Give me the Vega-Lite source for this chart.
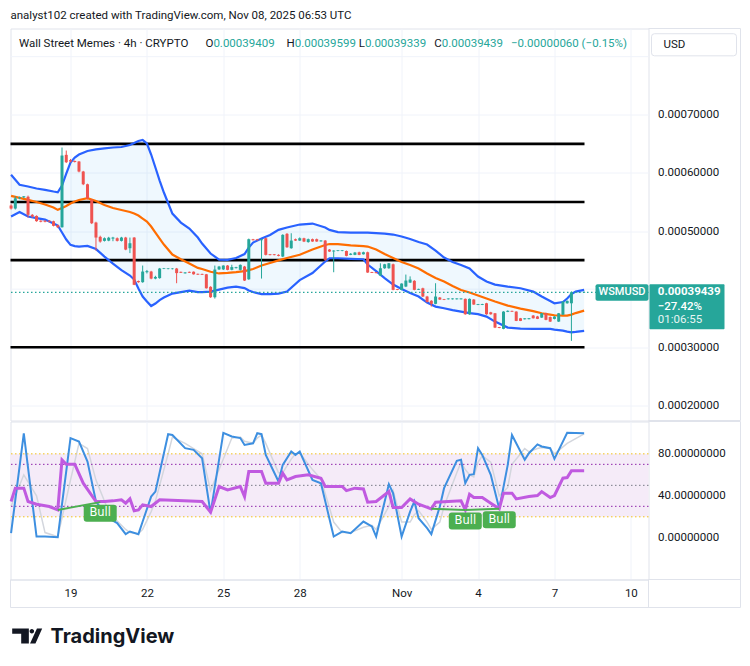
{
  "$schema": "https://vega.github.io/schema/vega-lite/v6.json",
  "description": "Wall Street Memes 4h chart with Bollinger Bands, Stochastic and RSI",
  "background": "#ffffff",
  "padding": {"left": 4.5, "top": 8.5, "right": 0, "bottom": 0},
  "config": {"view": {"stroke": "#e0e3eb", "strokeWidth": 1}, "font": "Roboto", "scale": {"continuousPadding": 0}},
  "bounds": "flush",
  "spacing": 1,
  "datasets": {
    "one": [{}],
    "levels": [{"p": 0.00065}, {"p": 0.00055}, {"p": 0.00045}, {"p": 0.0003}],
    "grid": [{"p": 0.0004}, {"p": 0.0008}],
    "candles": [
      {"t": "2025-10-16T16:00Z", "o": 0.0005439, "h": 0.000546, "l": 0.000537, "c": 0.0005387},
      {"t": "2025-10-16T20:00Z", "o": 0.0005387, "h": 0.00056, "l": 0.000537, "c": 0.0005564},
      {"t": "2025-10-17T00:00Z", "o": 0.0005564, "h": 0.0005592, "l": 0.0005548, "c": 0.0005582},
      {"t": "2025-10-17T04:00Z", "o": 0.000558, "h": 0.0005602, "l": 0.0005565, "c": 0.0005598},
      {"t": "2025-10-17T08:00Z", "o": 0.000559, "h": 0.000561, "l": 0.0005232, "c": 0.0005279},
      {"t": "2025-10-17T12:00Z", "o": 0.0005279, "h": 0.0005292, "l": 0.000523, "c": 0.0005249},
      {"t": "2025-10-17T16:00Z", "o": 0.000526, "h": 0.000527, "l": 0.000516, "c": 0.000517},
      {"t": "2025-10-17T20:00Z", "o": 0.0005178, "h": 0.0005185, "l": 0.000515, "c": 0.000516},
      {"t": "2025-10-18T00:00Z", "o": 0.0005178, "h": 0.0005185, "l": 0.000515, "c": 0.000516},
      {"t": "2025-10-18T04:00Z", "o": 0.0005178, "h": 0.0005185, "l": 0.000515, "c": 0.000516},
      {"t": "2025-10-18T08:00Z", "o": 0.0005168, "h": 0.0005178, "l": 0.000508, "c": 0.000509},
      {"t": "2025-10-18T12:00Z", "o": 0.00051, "h": 0.0005112, "l": 0.000505, "c": 0.0005065},
      {"t": "2025-10-18T16:00Z", "o": 0.0005065, "h": 0.0006437, "l": 0.000506, "c": 0.0006299},
      {"t": "2025-10-18T20:00Z", "o": 0.0006311, "h": 0.0006385, "l": 0.000617, "c": 0.0006184},
      {"t": "2025-10-19T00:00Z", "o": 0.000622, "h": 0.000624, "l": 0.000618, "c": 0.0006196},
      {"t": "2025-10-19T04:00Z", "o": 0.0006205, "h": 0.0006215, "l": 0.000618, "c": 0.0006188},
      {"t": "2025-10-19T08:00Z", "o": 0.0006196, "h": 0.0006205, "l": 0.000601, "c": 0.0006024},
      {"t": "2025-10-19T12:00Z", "o": 0.0006024, "h": 0.0006035, "l": 0.000579, "c": 0.0005805},
      {"t": "2025-10-19T16:00Z", "o": 0.0005805, "h": 0.0005815, "l": 0.0005545, "c": 0.0005564},
      {"t": "2025-10-19T20:00Z", "o": 0.0005537, "h": 0.000555, "l": 0.000512, "c": 0.0005134},
      {"t": "2025-10-20T00:00Z", "o": 0.0005146, "h": 0.000516, "l": 0.0004664, "c": 0.0004888},
      {"t": "2025-10-20T04:00Z", "o": 0.00049, "h": 0.000492, "l": 0.00048, "c": 0.0004819},
      {"t": "2025-10-20T08:00Z", "o": 0.0004831, "h": 0.000489, "l": 0.000482, "c": 0.0004876},
      {"t": "2025-10-20T12:00Z", "o": 0.0004835, "h": 0.00049, "l": 0.0004825, "c": 0.0004885},
      {"t": "2025-10-20T16:00Z", "o": 0.000487, "h": 0.00049, "l": 0.0004825, "c": 0.0004888},
      {"t": "2025-10-20T20:00Z", "o": 0.0004876, "h": 0.000489, "l": 0.000482, "c": 0.0004831},
      {"t": "2025-10-21T00:00Z", "o": 0.0004831, "h": 0.00049, "l": 0.000482, "c": 0.0004888},
      {"t": "2025-10-21T04:00Z", "o": 0.0004888, "h": 0.00049, "l": 0.000467, "c": 0.0004681},
      {"t": "2025-10-21T08:00Z", "o": 0.0004704, "h": 0.0004888, "l": 0.000462, "c": 0.000479},
      {"t": "2025-10-21T12:00Z", "o": 0.0004888, "h": 0.0004895, "l": 0.0004069, "c": 0.0004075},
      {"t": "2025-10-21T16:00Z", "o": 0.000414, "h": 0.0004148, "l": 0.000411, "c": 0.000412},
      {"t": "2025-10-21T20:00Z", "o": 0.000412, "h": 0.0004406, "l": 0.000411, "c": 0.0004303},
      {"t": "2025-10-22T00:00Z", "o": 0.0004292, "h": 0.000433, "l": 0.000427, "c": 0.000431},
      {"t": "2025-10-22T04:00Z", "o": 0.0004303, "h": 0.0004315, "l": 0.000417, "c": 0.0004182},
      {"t": "2025-10-22T08:00Z", "o": 0.0004182, "h": 0.000423, "l": 0.000417, "c": 0.000421},
      {"t": "2025-10-22T12:00Z", "o": 0.000419, "h": 0.0004365, "l": 0.000418, "c": 0.0004355},
      {"t": "2025-10-22T16:00Z", "o": 0.0004348, "h": 0.0004365, "l": 0.0004345, "c": 0.0004358},
      {"t": "2025-10-22T20:00Z", "o": 0.0004346, "h": 0.0004362, "l": 0.0004342, "c": 0.0004356},
      {"t": "2025-10-23T00:00Z", "o": 0.0004345, "h": 0.0004362, "l": 0.000434, "c": 0.0004355},
      {"t": "2025-10-23T04:00Z", "o": 0.0004355, "h": 0.0004365, "l": 0.0004102, "c": 0.0004276},
      {"t": "2025-10-23T08:00Z", "o": 0.0004298, "h": 0.0004302, "l": 0.0004278, "c": 0.0004282},
      {"t": "2025-10-23T12:00Z", "o": 0.0004272, "h": 0.0004292, "l": 0.0004268, "c": 0.0004288},
      {"t": "2025-10-23T16:00Z", "o": 0.0004298, "h": 0.0004302, "l": 0.0004278, "c": 0.0004282},
      {"t": "2025-10-23T20:00Z", "o": 0.00043, "h": 0.0004305, "l": 0.000425, "c": 0.0004256},
      {"t": "2025-10-24T00:00Z", "o": 0.0004264, "h": 0.0004268, "l": 0.0004245, "c": 0.000425},
      {"t": "2025-10-24T04:00Z", "o": 0.0004262, "h": 0.0004266, "l": 0.0004245, "c": 0.0004248},
      {"t": "2025-10-24T08:00Z", "o": 0.0004256, "h": 0.0004262, "l": 0.000401, "c": 0.0004015},
      {"t": "2025-10-24T12:00Z", "o": 0.000404, "h": 0.000405, "l": 0.000385, "c": 0.0003861},
      {"t": "2025-10-24T16:00Z", "o": 0.0003861, "h": 0.0004406, "l": 0.0003838, "c": 0.0004337},
      {"t": "2025-10-24T20:00Z", "o": 0.000434, "h": 0.00044, "l": 0.000433, "c": 0.0004389},
      {"t": "2025-10-25T00:00Z", "o": 0.000434, "h": 0.000441, "l": 0.000433, "c": 0.0004406},
      {"t": "2025-10-25T04:00Z", "o": 0.0004406, "h": 0.0004415, "l": 0.0004325, "c": 0.0004332},
      {"t": "2025-10-25T08:00Z", "o": 0.0004333, "h": 0.000442, "l": 0.0004325, "c": 0.000438},
      {"t": "2025-10-25T12:00Z", "o": 0.0004362, "h": 0.0004385, "l": 0.0004355, "c": 0.0004378},
      {"t": "2025-10-25T16:00Z", "o": 0.0004332, "h": 0.0004425, "l": 0.000432, "c": 0.0004418},
      {"t": "2025-10-25T20:00Z", "o": 0.0004389, "h": 0.00044, "l": 0.000414, "c": 0.0004148},
      {"t": "2025-10-26T00:00Z", "o": 0.000417, "h": 0.000487, "l": 0.000416, "c": 0.0004859},
      {"t": "2025-10-26T04:00Z", "o": 0.0004858, "h": 0.0004865, "l": 0.0004838, "c": 0.0004842},
      {"t": "2025-10-26T08:00Z", "o": 0.0004858, "h": 0.0004865, "l": 0.0004838, "c": 0.0004842},
      {"t": "2025-10-26T12:00Z", "o": 0.0004842, "h": 0.0004862, "l": 0.0004182, "c": 0.0004858},
      {"t": "2025-10-26T16:00Z", "o": 0.0004876, "h": 0.0004885, "l": 0.000458, "c": 0.000459},
      {"t": "2025-10-26T20:00Z", "o": 0.00046, "h": 0.0004605, "l": 0.0004582, "c": 0.0004586},
      {"t": "2025-10-27T00:00Z", "o": 0.00046, "h": 0.0004605, "l": 0.0004582, "c": 0.0004586},
      {"t": "2025-10-27T04:00Z", "o": 0.000459, "h": 0.00046, "l": 0.0004565, "c": 0.0004573},
      {"t": "2025-10-27T08:00Z", "o": 0.0004561, "h": 0.0004945, "l": 0.000455, "c": 0.0004934},
      {"t": "2025-10-27T12:00Z", "o": 0.0004952, "h": 0.0004965, "l": 0.000471, "c": 0.0004721},
      {"t": "2025-10-27T16:00Z", "o": 0.0004704, "h": 0.0004962, "l": 0.0004695, "c": 0.0004836},
      {"t": "2025-10-27T20:00Z", "o": 0.0004859, "h": 0.000487, "l": 0.000483, "c": 0.0004836},
      {"t": "2025-10-28T00:00Z", "o": 0.0004836, "h": 0.000489, "l": 0.000483, "c": 0.0004876},
      {"t": "2025-10-28T04:00Z", "o": 0.0004876, "h": 0.0004885, "l": 0.000481, "c": 0.0004819},
      {"t": "2025-10-28T08:00Z", "o": 0.000481, "h": 0.000487, "l": 0.00048, "c": 0.000486},
      {"t": "2025-10-28T12:00Z", "o": 0.000486, "h": 0.000487, "l": 0.0004815, "c": 0.000482},
      {"t": "2025-10-28T16:00Z", "o": 0.000486, "h": 0.000487, "l": 0.0004815, "c": 0.000482},
      {"t": "2025-10-28T20:00Z", "o": 0.0004822, "h": 0.000484, "l": 0.0004818, "c": 0.0004838},
      {"t": "2025-10-29T00:00Z", "o": 0.0004836, "h": 0.0004845, "l": 0.0004487, "c": 0.0004504},
      {"t": "2025-10-29T04:00Z", "o": 0.0004681, "h": 0.000469, "l": 0.000464, "c": 0.0004647},
      {"t": "2025-10-29T08:00Z", "o": 0.0004648, "h": 0.000467, "l": 0.0004291, "c": 0.0004664},
      {"t": "2025-10-29T12:00Z", "o": 0.0004656, "h": 0.0004672, "l": 0.0004652, "c": 0.0004668},
      {"t": "2025-10-29T16:00Z", "o": 0.0004656, "h": 0.0004672, "l": 0.0004652, "c": 0.0004668},
      {"t": "2025-10-29T20:00Z", "o": 0.0004657, "h": 0.0004665, "l": 0.0004565, "c": 0.0004573},
      {"t": "2025-10-30T00:00Z", "o": 0.000459, "h": 0.000462, "l": 0.0004585, "c": 0.000461},
      {"t": "2025-10-30T04:00Z", "o": 0.000459, "h": 0.000464, "l": 0.0004585, "c": 0.000463},
      {"t": "2025-10-30T08:00Z", "o": 0.0004635, "h": 0.0004645, "l": 0.0004585, "c": 0.000459},
      {"t": "2025-10-30T12:00Z", "o": 0.00046, "h": 0.0004645, "l": 0.0004595, "c": 0.0004635},
      {"t": "2025-10-30T16:00Z", "o": 0.0004635, "h": 0.0004645, "l": 0.000428, "c": 0.0004286},
      {"t": "2025-10-30T20:00Z", "o": 0.0004295, "h": 0.0004298, "l": 0.0004278, "c": 0.000428},
      {"t": "2025-10-31T00:00Z", "o": 0.0004292, "h": 0.0004295, "l": 0.0004272, "c": 0.0004276},
      {"t": "2025-10-31T04:00Z", "o": 0.0004234, "h": 0.0004445, "l": 0.0004225, "c": 0.000436},
      {"t": "2025-10-31T08:00Z", "o": 0.000436, "h": 0.0004435, "l": 0.000435, "c": 0.0004428},
      {"t": "2025-10-31T12:00Z", "o": 0.000436, "h": 0.000445, "l": 0.000435, "c": 0.0004445},
      {"t": "2025-10-31T16:00Z", "o": 0.0004428, "h": 0.000444, "l": 0.000398, "c": 0.0003988},
      {"t": "2025-10-31T20:00Z", "o": 0.0004, "h": 0.0004004, "l": 0.0003982, "c": 0.0003986},
      {"t": "2025-11-01T00:00Z", "o": 0.0003988, "h": 0.00041, "l": 0.000398, "c": 0.0004096},
      {"t": "2025-11-01T04:00Z", "o": 0.0004045, "h": 0.0004251, "l": 0.0004035, "c": 0.0004148},
      {"t": "2025-11-01T08:00Z", "o": 0.0004113, "h": 0.000422, "l": 0.0004105, "c": 0.0004165},
      {"t": "2025-11-01T12:00Z", "o": 0.0004143, "h": 0.0004155, "l": 0.000398, "c": 0.0003988},
      {"t": "2025-11-01T16:00Z", "o": 0.000399, "h": 0.0004008, "l": 0.0003986, "c": 0.0004004},
      {"t": "2025-11-01T20:00Z", "o": 0.0004015, "h": 0.0004025, "l": 0.0003865, "c": 0.0003873},
      {"t": "2025-11-02T00:00Z", "o": 0.0003873, "h": 0.0003885, "l": 0.000377, "c": 0.000378},
      {"t": "2025-11-02T04:00Z", "o": 0.00038, "h": 0.000381, "l": 0.00037, "c": 0.0003747},
      {"t": "2025-11-02T08:00Z", "o": 0.0003747, "h": 0.0004102, "l": 0.000374, "c": 0.0003873},
      {"t": "2025-11-02T12:00Z", "o": 0.0003856, "h": 0.0003865, "l": 0.0003815, "c": 0.0003821},
      {"t": "2025-11-02T16:00Z", "o": 0.0003828, "h": 0.0003832, "l": 0.0003812, "c": 0.0003816},
      {"t": "2025-11-02T20:00Z", "o": 0.0003826, "h": 0.0003842, "l": 0.0003822, "c": 0.000384},
      {"t": "2025-11-03T00:00Z", "o": 0.0003826, "h": 0.0003842, "l": 0.0003822, "c": 0.000384},
      {"t": "2025-11-03T04:00Z", "o": 0.0003826, "h": 0.0003842, "l": 0.0003822, "c": 0.000384},
      {"t": "2025-11-03T08:00Z", "o": 0.0003826, "h": 0.0003842, "l": 0.0003822, "c": 0.000384},
      {"t": "2025-11-03T12:00Z", "o": 0.0003833, "h": 0.000384, "l": 0.000356, "c": 0.0003568},
      {"t": "2025-11-03T16:00Z", "o": 0.0003568, "h": 0.000384, "l": 0.000356, "c": 0.0003833},
      {"t": "2025-11-03T20:00Z", "o": 0.0003821, "h": 0.000383, "l": 0.000373, "c": 0.0003735},
      {"t": "2025-11-04T00:00Z", "o": 0.0003728, "h": 0.0003746, "l": 0.0003725, "c": 0.0003742},
      {"t": "2025-11-04T04:00Z", "o": 0.000373, "h": 0.0003748, "l": 0.0003726, "c": 0.0003745},
      {"t": "2025-11-04T08:00Z", "o": 0.0003757, "h": 0.0003765, "l": 0.000356, "c": 0.0003568},
      {"t": "2025-11-04T12:00Z", "o": 0.0003602, "h": 0.000361, "l": 0.000356, "c": 0.0003568},
      {"t": "2025-11-04T16:00Z", "o": 0.0003585, "h": 0.000359, "l": 0.000333, "c": 0.0003339},
      {"t": "2025-11-04T20:00Z", "o": 0.0003348, "h": 0.000335, "l": 0.0003328, "c": 0.0003332},
      {"t": "2025-11-05T00:00Z", "o": 0.0003317, "h": 0.000362, "l": 0.000331, "c": 0.0003614},
      {"t": "2025-11-05T04:00Z", "o": 0.000361, "h": 0.0003635, "l": 0.0003605, "c": 0.0003627},
      {"t": "2025-11-05T08:00Z", "o": 0.0003626, "h": 0.000363, "l": 0.000361, "c": 0.0003612},
      {"t": "2025-11-05T12:00Z", "o": 0.0003614, "h": 0.000362, "l": 0.000345, "c": 0.0003454},
      {"t": "2025-11-05T16:00Z", "o": 0.0003499, "h": 0.0003505, "l": 0.000345, "c": 0.0003454},
      {"t": "2025-11-05T20:00Z", "o": 0.0003482, "h": 0.00035, "l": 0.0003478, "c": 0.0003498},
      {"t": "2025-11-06T00:00Z", "o": 0.0003484, "h": 0.0003502, "l": 0.000348, "c": 0.00035},
      {"t": "2025-11-06T04:00Z", "o": 0.0003546, "h": 0.0003555, "l": 0.0003495, "c": 0.0003499},
      {"t": "2025-11-06T08:00Z", "o": 0.000353, "h": 0.000354, "l": 0.0003485, "c": 0.0003489},
      {"t": "2025-11-06T12:00Z", "o": 0.000351, "h": 0.000359, "l": 0.0003505, "c": 0.0003585},
      {"t": "2025-11-06T16:00Z", "o": 0.0003585, "h": 0.0003595, "l": 0.0003465, "c": 0.0003472},
      {"t": "2025-11-06T20:00Z", "o": 0.000352, "h": 0.000353, "l": 0.0003435, "c": 0.0003442},
      {"t": "2025-11-07T00:00Z", "o": 0.0003488, "h": 0.0003535, "l": 0.000348, "c": 0.0003528},
      {"t": "2025-11-07T04:00Z", "o": 0.0003442, "h": 0.000359, "l": 0.0003435, "c": 0.0003585},
      {"t": "2025-11-07T08:00Z", "o": 0.000356, "h": 0.000379, "l": 0.0003555, "c": 0.0003786},
      {"t": "2025-11-07T12:00Z", "o": 0.0003757, "h": 0.0003805, "l": 0.000375, "c": 0.0003798},
      {"t": "2025-11-07T16:00Z", "o": 0.0003757, "h": 0.000396, "l": 0.000311, "c": 0.0003947},
      {"t": "2025-11-07T20:00Z", "o": 0.0003938, "h": 0.0003952, "l": 0.0003936, "c": 0.0003944},
      {"t": "2025-11-08T00:00Z", "o": 0.0003938, "h": 0.0003952, "l": 0.0003936, "c": 0.0003942},
      {"t": "2025-11-08T04:00Z", "o": 0.00039409, "h": 0.00039599, "l": 0.00039339, "c": 0.00039439}
    ],
    "bb": [
      {"t": "2025-10-16T16:00Z", "up": 0.00059672, "mid": 0.00056057, "lo": 0.00052494},
      {"t": "2025-10-17T00:00Z", "up": 0.0005795, "mid": 0.00055713, "lo": 0.00053269},
      {"t": "2025-10-17T08:00Z", "up": 0.00057658, "mid": 0.00055369, "lo": 0.00052494},
      {"t": "2025-10-17T16:00Z", "up": 0.00057314, "mid": 0.0005499, "lo": 0.00052236},
      {"t": "2025-10-18T00:00Z", "up": 0.0005709, "mid": 0.0005456, "lo": 0.00051978},
      {"t": "2025-10-18T08:00Z", "up": 0.00056797, "mid": 0.00054043, "lo": 0.00051289},
      {"t": "2025-10-18T12:00Z", "up": 0.00056677, "mid": 0.00053647, "lo": 0.00050945},
      {"t": "2025-10-18T16:00Z", "up": 0.0005783, "mid": 0.00053957, "lo": 0.0004974},
      {"t": "2025-10-18T20:00Z", "up": 0.00059895, "mid": 0.00054301, "lo": 0.00048535},
      {"t": "2025-10-19T00:00Z", "up": 0.00061789, "mid": 0.00054732, "lo": 0.00047623},
      {"t": "2025-10-19T04:00Z", "up": 0.00062649, "mid": 0.00055076, "lo": 0.00047417},
      {"t": "2025-10-19T08:00Z", "up": 0.00063166, "mid": 0.00055334, "lo": 0.00047331},
      {"t": "2025-10-19T16:00Z", "up": 0.00063768, "mid": 0.00055644, "lo": 0.00047451},
      {"t": "2025-10-20T00:00Z", "up": 0.00064061, "mid": 0.00055162, "lo": 0.000469},
      {"t": "2025-10-20T08:00Z", "up": 0.00064233, "mid": 0.00054474, "lo": 0.00045609},
      {"t": "2025-10-20T16:00Z", "up": 0.0006437, "mid": 0.00053957, "lo": 0.00044405},
      {"t": "2025-10-21T00:00Z", "up": 0.00064457, "mid": 0.00053613, "lo": 0.00043286},
      {"t": "2025-10-21T08:00Z", "up": 0.00064801, "mid": 0.00053269, "lo": 0.00042339},
      {"t": "2025-10-21T12:00Z", "up": 0.00065145, "mid": 0.00053011, "lo": 0.00041651},
      {"t": "2025-10-21T16:00Z", "up": 0.00065489, "mid": 0.00052666, "lo": 0.00040102},
      {"t": "2025-10-21T20:00Z", "up": 0.00065661, "mid": 0.0005215, "lo": 0.00038725},
      {"t": "2025-10-22T00:00Z", "up": 0.00065059, "mid": 0.00051634, "lo": 0.00037864},
      {"t": "2025-10-22T04:00Z", "up": 0.00063166, "mid": 0.00050773, "lo": 0.0003709},
      {"t": "2025-10-22T08:00Z", "up": 0.00060928, "mid": 0.0004974, "lo": 0.0003752},
      {"t": "2025-10-22T12:00Z", "up": 0.00058691, "mid": 0.00048708, "lo": 0.00038122},
      {"t": "2025-10-22T16:00Z", "up": 0.00056625, "mid": 0.00047675, "lo": 0.00038552},
      {"t": "2025-10-23T00:00Z", "up": 0.00053011, "mid": 0.00045954, "lo": 0.00039241},
      {"t": "2025-10-23T08:00Z", "up": 0.00051461, "mid": 0.00045145, "lo": 0.00039499},
      {"t": "2025-10-23T16:00Z", "up": 0.00050429, "mid": 0.00044405, "lo": 0.00039757},
      {"t": "2025-10-24T00:00Z", "up": 0.0004888, "mid": 0.00043664, "lo": 0.00039499},
      {"t": "2025-10-24T04:00Z", "up": 0.00047847, "mid": 0.00043458, "lo": 0.00039499},
      {"t": "2025-10-24T12:00Z", "up": 0.00046126, "mid": 0.00042993, "lo": 0.00039585},
      {"t": "2025-10-24T20:00Z", "up": 0.00045093, "mid": 0.000427, "lo": 0.00039929},
      {"t": "2025-10-25T04:00Z", "up": 0.00045041, "mid": 0.00042804, "lo": 0.00040274},
      {"t": "2025-10-25T12:00Z", "up": 0.00045351, "mid": 0.00042942, "lo": 0.00040446},
      {"t": "2025-10-25T20:00Z", "up": 0.0004604, "mid": 0.00043114, "lo": 0.00040188},
      {"t": "2025-10-26T00:00Z", "up": 0.00047158, "mid": 0.00043286, "lo": 0.00039757},
      {"t": "2025-10-26T04:00Z", "up": 0.00048019, "mid": 0.00043458, "lo": 0.00039499},
      {"t": "2025-10-26T12:00Z", "up": 0.00048708, "mid": 0.0004406, "lo": 0.00039155},
      {"t": "2025-10-26T20:00Z", "up": 0.0004931, "mid": 0.00044491, "lo": 0.00039155},
      {"t": "2025-10-27T04:00Z", "up": 0.00050205, "mid": 0.00044955, "lo": 0.00039241},
      {"t": "2025-10-27T12:00Z", "up": 0.00050601, "mid": 0.00045351, "lo": 0.00039585},
      {"t": "2025-10-28T00:00Z", "up": 0.00051117, "mid": 0.00045919, "lo": 0.00041565},
      {"t": "2025-10-28T12:00Z", "up": 0.00051289, "mid": 0.00046814, "lo": 0.00042769},
      {"t": "2025-10-29T00:00Z", "up": 0.00050601, "mid": 0.00047589, "lo": 0.00044749},
      {"t": "2025-10-29T04:00Z", "up": 0.00050205, "mid": 0.00047761, "lo": 0.00045317},
      {"t": "2025-10-29T12:00Z", "up": 0.00049826, "mid": 0.00047761, "lo": 0.00045317},
      {"t": "2025-10-30T00:00Z", "up": 0.0004974, "mid": 0.00047537, "lo": 0.00045214},
      {"t": "2025-10-30T12:00Z", "up": 0.0004974, "mid": 0.00047417, "lo": 0.00045145},
      {"t": "2025-10-30T16:00Z", "up": 0.0004974, "mid": 0.00047331, "lo": 0.00044232},
      {"t": "2025-10-31T00:00Z", "up": 0.00049654, "mid": 0.00046814, "lo": 0.00043114},
      {"t": "2025-10-31T08:00Z", "up": 0.00049568, "mid": 0.0004604, "lo": 0.00041909},
      {"t": "2025-10-31T16:00Z", "up": 0.00049396, "mid": 0.00045351, "lo": 0.0004079},
      {"t": "2025-11-01T00:00Z", "up": 0.00049052, "mid": 0.00044663, "lo": 0.00040015},
      {"t": "2025-11-01T08:00Z", "up": 0.00048621, "mid": 0.00044146, "lo": 0.00039327},
      {"t": "2025-11-01T16:00Z", "up": 0.00048105, "mid": 0.00043544, "lo": 0.00038725},
      {"t": "2025-11-02T00:00Z", "up": 0.00047675, "mid": 0.00042683, "lo": 0.00037692},
      {"t": "2025-11-02T08:00Z", "up": 0.00046642, "mid": 0.00041909, "lo": 0.00037003},
      {"t": "2025-11-02T16:00Z", "up": 0.00045437, "mid": 0.00041306, "lo": 0.00036711},
      {"t": "2025-11-03T00:00Z", "up": 0.00044663, "mid": 0.00040533, "lo": 0.00036401},
      {"t": "2025-11-03T08:00Z", "up": 0.00044146, "mid": 0.00039844, "lo": 0.00036143},
      {"t": "2025-11-03T16:00Z", "up": 0.00043544, "mid": 0.00039413, "lo": 0.00035885},
      {"t": "2025-11-04T00:00Z", "up": 0.00042167, "mid": 0.00038897, "lo": 0.00035712},
      {"t": "2025-11-04T08:00Z", "up": 0.00041306, "mid": 0.0003838, "lo": 0.00035282},
      {"t": "2025-11-04T16:00Z", "up": 0.0004079, "mid": 0.00037864, "lo": 0.00034422},
      {"t": "2025-11-05T04:00Z", "up": 0.00040446, "mid": 0.00037176, "lo": 0.00033389},
      {"t": "2025-11-05T16:00Z", "up": 0.00040153, "mid": 0.00036659, "lo": 0.00033217},
      {"t": "2025-11-06T04:00Z", "up": 0.00039585, "mid": 0.00036229, "lo": 0.00033165},
      {"t": "2025-11-06T12:00Z", "up": 0.00038725, "mid": 0.0003585, "lo": 0.00033165},
      {"t": "2025-11-06T20:00Z", "up": 0.0003795, "mid": 0.00035626, "lo": 0.00033165},
      {"t": "2025-11-07T00:00Z", "up": 0.00037571, "mid": 0.00035506, "lo": 0.00033045},
      {"t": "2025-11-07T08:00Z", "up": 0.00037778, "mid": 0.00035454, "lo": 0.00032873},
      {"t": "2025-11-07T12:00Z", "up": 0.0003838, "mid": 0.00035454, "lo": 0.00032701},
      {"t": "2025-11-07T16:00Z", "up": 0.00039155, "mid": 0.00035626, "lo": 0.0003258},
      {"t": "2025-11-07T20:00Z", "up": 0.00039585, "mid": 0.00035885, "lo": 0.00032649},
      {"t": "2025-11-08T04:00Z", "up": 0.00039878, "mid": 0.00036315, "lo": 0.00032821}
    ],
    "stoch": [
      {"t": "2025-10-16T16:00Z", "k": 4.4, "d": 30},
      {"t": "2025-10-17T04:00Z", "k": 99.6, "d": 60},
      {"t": "2025-10-17T16:00Z", "k": 1.2, "d": 40},
      {"t": "2025-10-18T00:00Z", "k": 1.2, "d": 5},
      {"t": "2025-10-18T12:00Z", "k": 0.5, "d": 1},
      {"t": "2025-10-19T00:00Z", "k": 95, "d": 55},
      {"t": "2025-10-19T08:00Z", "k": 91.7, "d": 90},
      {"t": "2025-10-19T16:00Z", "k": 72.7, "d": 85},
      {"t": "2025-10-20T00:00Z", "k": 34.6, "d": 55},
      {"t": "2025-10-20T12:00Z", "k": 18.7, "d": 25},
      {"t": "2025-10-20T20:00Z", "k": 14, "d": 16},
      {"t": "2025-10-21T04:00Z", "k": 3.5, "d": 8},
      {"t": "2025-10-21T08:00Z", "k": 6, "d": 5},
      {"t": "2025-10-21T16:00Z", "k": 3.5, "d": 4},
      {"t": "2025-10-21T20:00Z", "k": 15.5, "d": 8},
      {"t": "2025-10-22T04:00Z", "k": 39.3, "d": 25},
      {"t": "2025-10-22T08:00Z", "k": 44, "d": 35},
      {"t": "2025-10-22T20:00Z", "k": 98.7, "d": 80},
      {"t": "2025-10-23T00:00Z", "k": 98, "d": 96},
      {"t": "2025-10-23T12:00Z", "k": 85.4, "d": 90},
      {"t": "2025-10-23T20:00Z", "k": 83.8, "d": 85},
      {"t": "2025-10-24T04:00Z", "k": 75.8, "d": 80},
      {"t": "2025-10-24T12:00Z", "k": 23.5, "d": 45},
      {"t": "2025-10-25T00:00Z", "k": 100, "d": 75},
      {"t": "2025-10-25T08:00Z", "k": 96.5, "d": 95},
      {"t": "2025-10-25T16:00Z", "k": 95, "d": 96},
      {"t": "2025-10-25T20:00Z", "k": 88.5, "d": 92},
      {"t": "2025-10-26T04:00Z", "k": 90, "d": 90},
      {"t": "2025-10-26T08:00Z", "k": 99.6, "d": 95},
      {"t": "2025-10-26T12:00Z", "k": 98.7, "d": 98},
      {"t": "2025-10-26T16:00Z", "k": 79, "d": 90},
      {"t": "2025-10-27T04:00Z", "k": 53.6, "d": 62},
      {"t": "2025-10-27T08:00Z", "k": 69.5, "d": 62},
      {"t": "2025-10-27T16:00Z", "k": 82.2, "d": 75},
      {"t": "2025-10-27T20:00Z", "k": 79, "d": 80},
      {"t": "2025-10-28T00:00Z", "k": 82.2, "d": 81},
      {"t": "2025-10-28T12:00Z", "k": 55.2, "d": 65},
      {"t": "2025-10-28T20:00Z", "k": 52, "d": 56},
      {"t": "2025-10-29T08:00Z", "k": 1.2, "d": 15},
      {"t": "2025-10-29T16:00Z", "k": 6, "d": 5},
      {"t": "2025-10-30T00:00Z", "k": 4.4, "d": 5},
      {"t": "2025-10-30T12:00Z", "k": 15.5, "d": 10},
      {"t": "2025-10-30T20:00Z", "k": 10.8, "d": 12},
      {"t": "2025-10-31T00:00Z", "k": 1.2, "d": 8},
      {"t": "2025-10-31T12:00Z", "k": 51.1, "d": 30},
      {"t": "2025-10-31T16:00Z", "k": 42.5, "d": 45},
      {"t": "2025-11-01T00:00Z", "k": 1.2, "d": 15},
      {"t": "2025-11-01T08:00Z", "k": 25, "d": 15},
      {"t": "2025-11-01T12:00Z", "k": 34.6, "d": 22},
      {"t": "2025-11-01T16:00Z", "k": 18.7, "d": 26},
      {"t": "2025-11-02T00:00Z", "k": 9.2, "d": 15},
      {"t": "2025-11-02T04:00Z", "k": 3.5, "d": 8},
      {"t": "2025-11-02T12:00Z", "k": 29.8, "d": 15},
      {"t": "2025-11-02T16:00Z", "k": 47.3, "d": 30},
      {"t": "2025-11-03T04:00Z", "k": 73.3, "d": 62},
      {"t": "2025-11-03T08:00Z", "k": 74.3, "d": 72},
      {"t": "2025-11-03T12:00Z", "k": 52, "d": 65},
      {"t": "2025-11-03T16:00Z", "k": 60, "d": 60},
      {"t": "2025-11-03T20:00Z", "k": 60.6, "d": 58},
      {"t": "2025-11-04T00:00Z", "k": 85.4, "d": 72},
      {"t": "2025-11-04T04:00Z", "k": 79, "d": 78},
      {"t": "2025-11-04T12:00Z", "k": 60, "d": 72},
      {"t": "2025-11-04T20:00Z", "k": 27.6, "d": 40},
      {"t": "2025-11-05T04:00Z", "k": 69.5, "d": 48},
      {"t": "2025-11-05T08:00Z", "k": 98, "d": 70},
      {"t": "2025-11-05T20:00Z", "k": 74.3, "d": 85},
      {"t": "2025-11-06T00:00Z", "k": 80.6, "d": 82},
      {"t": "2025-11-06T08:00Z", "k": 89, "d": 85},
      {"t": "2025-11-06T12:00Z", "k": 87, "d": 86},
      {"t": "2025-11-06T20:00Z", "k": 85.4, "d": 85},
      {"t": "2025-11-07T00:00Z", "k": 75.2, "d": 80},
      {"t": "2025-11-07T12:00Z", "k": 100, "d": 90},
      {"t": "2025-11-08T04:00Z", "k": 99.6, "d": 99}
    ],
    "rsi": [
      {"t": "2025-10-16T16:00Z", "v": 34.6},
      {"t": "2025-10-16T20:00Z", "v": 47.3},
      {"t": "2025-10-17T04:00Z", "v": 47.3},
      {"t": "2025-10-17T08:00Z", "v": 34.6},
      {"t": "2025-10-17T16:00Z", "v": 32},
      {"t": "2025-10-18T04:00Z", "v": 29.8},
      {"t": "2025-10-18T12:00Z", "v": 26.6},
      {"t": "2025-10-18T16:00Z", "v": 74.3},
      {"t": "2025-10-18T20:00Z", "v": 70.1},
      {"t": "2025-10-19T04:00Z", "v": 70.1},
      {"t": "2025-10-19T12:00Z", "v": 52},
      {"t": "2025-10-20T00:00Z", "v": 34.6},
      {"t": "2025-10-20T08:00Z", "v": 34.6},
      {"t": "2025-10-20T16:00Z", "v": 35.2},
      {"t": "2025-10-21T00:00Z", "v": 36.2},
      {"t": "2025-10-21T04:00Z", "v": 33},
      {"t": "2025-10-21T08:00Z", "v": 37.1},
      {"t": "2025-10-21T12:00Z", "v": 25.7},
      {"t": "2025-10-21T16:00Z", "v": 26.6},
      {"t": "2025-10-21T20:00Z", "v": 31.4},
      {"t": "2025-10-22T04:00Z", "v": 29.8},
      {"t": "2025-10-22T12:00Z", "v": 36.2},
      {"t": "2025-10-24T04:00Z", "v": 34.6},
      {"t": "2025-10-24T12:00Z", "v": 24.4},
      {"t": "2025-10-24T20:00Z", "v": 48.9},
      {"t": "2025-10-25T04:00Z", "v": 45.7},
      {"t": "2025-10-25T16:00Z", "v": 48.9},
      {"t": "2025-10-25T20:00Z", "v": 39.3},
      {"t": "2025-10-26T00:00Z", "v": 63.1},
      {"t": "2025-10-26T12:00Z", "v": 63.1},
      {"t": "2025-10-26T16:00Z", "v": 52},
      {"t": "2025-10-27T04:00Z", "v": 52},
      {"t": "2025-10-27T08:00Z", "v": 61.5},
      {"t": "2025-10-27T12:00Z", "v": 55.2},
      {"t": "2025-10-27T20:00Z", "v": 58.4},
      {"t": "2025-10-28T08:00Z", "v": 60},
      {"t": "2025-10-28T20:00Z", "v": 56.8},
      {"t": "2025-10-29T00:00Z", "v": 48.9},
      {"t": "2025-10-29T16:00Z", "v": 48.9},
      {"t": "2025-10-29T20:00Z", "v": 45},
      {"t": "2025-10-30T04:00Z", "v": 47.3},
      {"t": "2025-10-30T12:00Z", "v": 46.6},
      {"t": "2025-10-30T16:00Z", "v": 34},
      {"t": "2025-10-31T00:00Z", "v": 34.6},
      {"t": "2025-10-31T12:00Z", "v": 44},
      {"t": "2025-10-31T16:00Z", "v": 28.9},
      {"t": "2025-11-01T00:00Z", "v": 28.9},
      {"t": "2025-11-01T08:00Z", "v": 37.1},
      {"t": "2025-11-01T16:00Z", "v": 32},
      {"t": "2025-11-02T04:00Z", "v": 27.6},
      {"t": "2025-11-02T08:00Z", "v": 34},
      {"t": "2025-11-02T20:00Z", "v": 34.6},
      {"t": "2025-11-03T08:00Z", "v": 35.2},
      {"t": "2025-11-03T12:00Z", "v": 26.6},
      {"t": "2025-11-03T16:00Z", "v": 41.5},
      {"t": "2025-11-03T20:00Z", "v": 38.4},
      {"t": "2025-11-04T04:00Z", "v": 38.4},
      {"t": "2025-11-04T12:00Z", "v": 33},
      {"t": "2025-11-04T20:00Z", "v": 27.6},
      {"t": "2025-11-05T00:00Z", "v": 42.5},
      {"t": "2025-11-05T08:00Z", "v": 42.5},
      {"t": "2025-11-05T12:00Z", "v": 37.1},
      {"t": "2025-11-06T00:00Z", "v": 39.3},
      {"t": "2025-11-06T08:00Z", "v": 40.3},
      {"t": "2025-11-06T12:00Z", "v": 44},
      {"t": "2025-11-06T20:00Z", "v": 38.4},
      {"t": "2025-11-07T00:00Z", "v": 40.3},
      {"t": "2025-11-07T08:00Z", "v": 56.8},
      {"t": "2025-11-07T12:00Z", "v": 57.4},
      {"t": "2025-11-07T16:00Z", "v": 63.8},
      {"t": "2025-11-08T04:00Z", "v": 63.8}
    ],
    "div": [
      {"t": "2025-10-18T12:00Z", "v": 26.6, "g": 1},
      {"t": "2025-10-20T04:00Z", "v": 34, "g": 1},
      {"t": "2025-11-02T04:00Z", "v": 27.6, "g": 2},
      {"t": "2025-11-03T12:00Z", "v": 26.6, "g": 2},
      {"t": "2025-11-03T12:00Z", "v": 26.6, "g": 3},
      {"t": "2025-11-04T20:00Z", "v": 27.6, "g": 3}
    ],
    "bull": [
      {"t": "2025-10-20T04:00Z", "v": 34},
      {"t": "2025-11-03T12:00Z", "v": 26.6},
      {"t": "2025-11-04T20:00Z", "v": 27.6}
    ]
  },
  "vconcat": [
    {
      "width": 638,
      "height": 392,
      "layer": [
        {
          "data": {"name": "grid"},
          "mark": {"type": "rule", "color": "#f0f3fa", "strokeWidth": 1},
          "encoding": {
            "y": {
              "field": "p", "type": "quantitative", "title": null,
              "scale": {"domain": [0.000174, 0.0008485], "nice": false, "zero": false},
              "axis": {
                "orient": "right",
                "values": [0.0002, 0.0003, 0.0005, 0.0006, 0.0007],
                "format": ".8f", "labelPadding": 9, "ticks": false, "domain": false,
                "gridColor": "#f0f3fa", "labelFontSize": 11.5, "labelColor": "#131722",
                "labelFont": "Roboto", "labelOverlap": false
              }
            }
          }
        },
        {
          "data": {"name": "bb"},
          "mark": {"type": "area", "color": "#2196f3", "opacity": 0.07},
          "encoding": {
            "x": {
              "field": "t", "type": "temporal", "title": null,
              "scale": {"type": "utc", "padding": 0, "nice": false, "domain": [
                {"year": 2025, "month": 10, "date": 16, "hours": 15, "minutes": 28, "utc": true},
                {"year": 2025, "month": 11, "date": 10, "hours": 16, "minutes": 38, "utc": true}
              ]},
              "axis": {
                "values": [
                  {"year": 2025, "month": 10, "date": 19, "utc": true},
                  {"year": 2025, "month": 10, "date": 22, "utc": true},
                  {"year": 2025, "month": 10, "date": 25, "utc": true},
                  {"year": 2025, "month": 10, "date": 28, "utc": true},
                  {"year": 2025, "month": 11, "date": 1, "utc": true},
                  {"year": 2025, "month": 11, "date": 4, "utc": true},
                  {"year": 2025, "month": 11, "date": 7, "utc": true},
                  {"year": 2025, "month": 11, "date": 10, "utc": true}
                ],
                "labels": false, "ticks": false, "domain": false,
                "grid": true, "gridColor": "#f0f3fa"
              }
            },
            "y": {"field": "up", "type": "quantitative", "title": null},
            "y2": {"field": "lo"}
          }
        },
        {
          "data": {"name": "one"},
          "mark": {"type": "rule", "color": "#e0e3eb", "strokeWidth": 1},
          "encoding": {
            "x": {"datum": {"year": 2025, "month": 11, "date": 14, "hours": 7, "minutes": 19, "utc": true}, "type": "temporal"},
            "y": {"datum": 0.0008485, "type": "quantitative"},
            "y2": {"datum": 0.000174}
          }
        },
        {
          "data": {"name": "one"},
          "mark": {"type": "rule", "color": "#e0e3eb", "strokeWidth": 1},
          "encoding": {
            "x": {"datum": {"year": 2025, "month": 11, "date": 10, "hours": 16, "minutes": 38, "utc": true}, "type": "temporal"},
            "x2": {"datum": {"year": 2025, "month": 11, "date": 14, "hours": 7, "minutes": 19, "utc": true}},
            "y": {"datum": 0.0008485, "type": "quantitative"}
          }
        },
        {
          "data": {"name": "one"},
          "mark": {"type": "rule", "color": "#e0e3eb", "strokeWidth": 1},
          "encoding": {
            "x": {"datum": {"year": 2025, "month": 11, "date": 10, "hours": 16, "minutes": 38, "utc": true}, "type": "temporal"},
            "x2": {"datum": {"year": 2025, "month": 11, "date": 14, "hours": 7, "minutes": 19, "utc": true}},
            "y": {"datum": 0.000174, "type": "quantitative"}
          }
        },
        {
          "data": {"name": "levels"},
          "mark": {"type": "rule", "color": "#000000", "strokeWidth": 2.6},
          "encoding": {
            "x": {"datum": {"year": 2025, "month": 10, "date": 16, "hours": 15, "minutes": 28, "utc": true}, "type": "temporal"},
            "x2": {"datum": {"year": 2025, "month": 11, "date": 8, "hours": 4, "minutes": 20, "utc": true}},
            "y": {"field": "p", "type": "quantitative", "title": null}
          }
        },
        {
          "data": {"name": "bb"},
          "mark": {"type": "line", "color": "#2962ff", "strokeWidth": 2.2},
          "encoding": {
            "x": {"field": "t", "type": "temporal", "title": null},
            "y": {"field": "up", "type": "quantitative", "title": null}
          }
        },
        {
          "data": {"name": "bb"},
          "mark": {"type": "line", "color": "#2962ff", "strokeWidth": 2.2},
          "encoding": {
            "x": {"field": "t", "type": "temporal", "title": null},
            "y": {"field": "lo", "type": "quantitative", "title": null}
          }
        },
        {
          "data": {"name": "bb"},
          "mark": {"type": "line", "color": "#ff6d00", "strokeWidth": 2.2},
          "encoding": {
            "x": {"field": "t", "type": "temporal", "title": null},
            "y": {"field": "mid", "type": "quantitative", "title": null}
          }
        },
        {
          "data": {"name": "candles"},
          "mark": {"type": "rule", "strokeWidth": 1},
          "encoding": {
            "x": {"field": "t", "type": "temporal", "title": null},
            "y": {"field": "l", "type": "quantitative", "title": null},
            "y2": {"field": "h"},
            "color": {"condition": {"test": "datum.c >= datum.o", "value": "#26a69a"}, "value": "#ef5350"}
          }
        },
        {
          "data": {"name": "candles"},
          "mark": {"type": "bar", "size": 3},
          "encoding": {
            "x": {"field": "t", "type": "temporal", "title": null},
            "y": {"field": "o", "type": "quantitative", "title": null},
            "y2": {"field": "c"},
            "color": {"condition": {"test": "datum.c >= datum.o", "value": "#26a69a"}, "value": "#ef5350"}
          }
        },
        {
          "data": {"name": "one"},
          "mark": {"type": "rule", "color": "#26a69a", "strokeWidth": 1.2, "strokeDash": [1.5, 2.5]},
          "encoding": {"y": {"datum": 0.00039439, "type": "quantitative"}}
        },
        {
          "data": {"name": "one"},
          "mark": {"type": "text", "align": "left", "baseline": "middle", "fontSize": 11.5, "color": "#131722", "text": "analyst102 created with TradingView.com, Nov 08, 2025 06:53 UTC"},
          "encoding": {
            "x": {"datum": {"year": 2025, "month": 10, "date": 16, "hours": 15, "minutes": 28, "utc": true}, "type": "temporal"},
            "y": {"datum": 0.00087004, "type": "quantitative"}
          }
        },
        {
          "data": {"name": "one"},
          "mark": {"type": "text", "align": "left", "baseline": "middle", "fontSize": 11.5, "color": "#131722", "text": "Wall Street Memes · 4h · CRYPTO"},
          "encoding": {
            "x": {"datum": {"year": 2025, "month": 10, "date": 16, "hours": 23, "minutes": 22, "utc": true}, "type": "temporal"},
            "y": {"datum": 0.0008222, "type": "quantitative"}
          }
        },
        {
          "data": {"name": "one"},
          "mark": {"type": "text", "align": "right", "baseline": "middle", "fontSize": 11.5, "color": "#131722", "text": "O"},
          "encoding": {
            "x": {"datum": {"year": 2025, "month": 10, "date": 24, "hours": 14, "minutes": 39, "utc": true}, "type": "temporal"},
            "y": {"datum": 0.0008222, "type": "quantitative"}
          }
        },
        {
          "data": {"name": "one"},
          "mark": {"type": "text", "align": "left", "baseline": "middle", "fontSize": 11.5, "color": "#26a69a", "text": "0.00039409"},
          "encoding": {
            "x": {"datum": {"year": 2025, "month": 10, "date": 24, "hours": 14, "minutes": 39, "utc": true}, "type": "temporal"},
            "y": {"datum": 0.0008222, "type": "quantitative"}
          }
        },
        {
          "data": {"name": "one"},
          "mark": {"type": "text", "align": "right", "baseline": "middle", "fontSize": 11.5, "color": "#131722", "text": "H"},
          "encoding": {
            "x": {"datum": {"year": 2025, "month": 10, "date": 27, "hours": 19, "minutes": 16, "utc": true}, "type": "temporal"},
            "y": {"datum": 0.0008222, "type": "quantitative"}
          }
        },
        {
          "data": {"name": "one"},
          "mark": {"type": "text", "align": "left", "baseline": "middle", "fontSize": 11.5, "color": "#26a69a", "text": "0.00039599"},
          "encoding": {
            "x": {"datum": {"year": 2025, "month": 10, "date": 27, "hours": 19, "minutes": 16, "utc": true}, "type": "temporal"},
            "y": {"datum": 0.0008222, "type": "quantitative"}
          }
        },
        {
          "data": {"name": "one"},
          "mark": {"type": "text", "align": "right", "baseline": "middle", "fontSize": 11.5, "color": "#131722", "text": "L"},
          "encoding": {
            "x": {"datum": {"year": 2025, "month": 10, "date": 30, "hours": 13, "minutes": 25, "utc": true}, "type": "temporal"},
            "y": {"datum": 0.0008222, "type": "quantitative"}
          }
        },
        {
          "data": {"name": "one"},
          "mark": {"type": "text", "align": "left", "baseline": "middle", "fontSize": 11.5, "color": "#26a69a", "text": "0.00039339"},
          "encoding": {
            "x": {"datum": {"year": 2025, "month": 10, "date": 30, "hours": 13, "minutes": 25, "utc": true}, "type": "temporal"},
            "y": {"datum": 0.0008222, "type": "quantitative"}
          }
        },
        {
          "data": {"name": "one"},
          "mark": {"type": "text", "align": "right", "baseline": "middle", "fontSize": 11.5, "color": "#131722", "text": "C"},
          "encoding": {
            "x": {"datum": {"year": 2025, "month": 11, "date": 2, "hours": 13, "minutes": 52, "utc": true}, "type": "temporal"},
            "y": {"datum": 0.0008222, "type": "quantitative"}
          }
        },
        {
          "data": {"name": "one"},
          "mark": {"type": "text", "align": "left", "baseline": "middle", "fontSize": 11.5, "color": "#26a69a", "text": "0.00039439"},
          "encoding": {
            "x": {"datum": {"year": 2025, "month": 11, "date": 2, "hours": 13, "minutes": 52, "utc": true}, "type": "temporal"},
            "y": {"datum": 0.0008222, "type": "quantitative"}
          }
        },
        {
          "data": {"name": "one"},
          "mark": {"type": "text", "align": "left", "baseline": "middle", "fontSize": 11.5, "color": "#26a69a", "text": "−0.00000060 (−0.15%)"},
          "encoding": {
            "x": {"datum": {"year": 2025, "month": 11, "date": 5, "hours": 7, "minutes": 4, "utc": true}, "type": "temporal"},
            "y": {"datum": 0.0008222, "type": "quantitative"}
          }
        },
        {
          "data": {"name": "one"},
          "mark": {"type": "point", "filled": false, "stroke": "#e0e3eb", "strokeWidth": 1, "opacity": 1, "size": 7225,
                   "shape": "M-0.93,-0.26H0.93Q1,-0.26 1,-0.19V0.19Q1,0.26 0.93,0.26H-0.93Q-1,0.26 -1,0.19V-0.19Q-1,-0.26 -0.93,-0.26Z"},
          "encoding": {
            "x": {"datum": {"year": 2025, "month": 11, "date": 12, "hours": 11, "minutes": 31, "utc": true}, "type": "temporal"},
            "y": {"datum": 0.0008205, "type": "quantitative"}
          }
        },
        {
          "data": {"name": "one"},
          "mark": {"type": "text", "align": "left", "baseline": "middle", "fontSize": 11.5, "color": "#131722", "text": "USD"},
          "encoding": {
            "x": {"datum": {"year": 2025, "month": 11, "date": 11, "hours": 6, "minutes": 46, "utc": true}, "type": "temporal"},
            "y": {"datum": 0.0008205, "type": "quantitative"}
          }
        },
        {
          "data": {"name": "one"},
          "mark": {"type": "rect", "color": "#26a69a", "cornerRadius": 2},
          "encoding": {
            "x": {"datum": {"year": 2025, "month": 11, "date": 8, "hours": 14, "minutes": 43, "utc": true}, "type": "temporal"},
            "x2": {"datum": {"year": 2025, "month": 11, "date": 10, "hours": 16, "minutes": 38, "utc": true}},
            "y": {"datum": 0.00040842, "type": "quantitative"},
            "y2": {"datum": 0.00037984}
          }
        },
        {
          "data": {"name": "one"},
          "mark": {"type": "text", "align": "center", "baseline": "middle", "fontSize": 11, "fontWeight": 500, "color": "#ffffff", "text": "WSMUSD"},
          "encoding": {
            "x": {"datum": {"year": 2025, "month": 11, "date": 9, "hours": 15, "minutes": 40, "utc": true}, "type": "temporal"},
            "y": {"datum": 0.00039439, "type": "quantitative"}
          }
        },
        {
          "data": {"name": "one"},
          "mark": {"type": "rect", "color": "#26a69a", "cornerRadius": 1},
          "encoding": {
            "x": {"datum": {"year": 2025, "month": 11, "date": 10, "hours": 17, "minutes": 35, "utc": true}, "type": "temporal"},
            "x2": {"datum": {"year": 2025, "month": 11, "date": 13, "hours": 16, "minutes": 15, "utc": true}},
            "y": {"datum": 0.00040842, "type": "quantitative"},
            "y2": {"datum": 0.00033096}
          }
        },
        {
          "data": {"name": "one"},
          "mark": {"type": "text", "align": "left", "baseline": "middle", "fontSize": 11.5, "fontWeight": "bold", "color": "#ffffff", "text": "0.00039439"},
          "encoding": {
            "x": {"datum": {"year": 2025, "month": 11, "date": 11, "hours": 1, "minutes": 24, "utc": true}, "type": "temporal"},
            "y": {"datum": 0.00039439, "type": "quantitative"}
          }
        },
        {
          "data": {"name": "one"},
          "mark": {"type": "text", "align": "left", "baseline": "middle", "fontSize": 11.5, "fontWeight": 500, "color": "#ffffff", "text": "−27.42%"},
          "encoding": {
            "x": {"datum": {"year": 2025, "month": 11, "date": 11, "hours": 1, "minutes": 24, "utc": true}, "type": "temporal"},
            "y": {"datum": 0.00036952, "type": "quantitative"}
          }
        },
        {
          "data": {"name": "one"},
          "mark": {"type": "text", "align": "left", "baseline": "middle", "fontSize": 11.5, "color": "#e6f5f3", "text": "01:06:55"},
          "encoding": {
            "x": {"datum": {"year": 2025, "month": 11, "date": 11, "hours": 1, "minutes": 24, "utc": true}, "type": "temporal"},
            "y": {"datum": 0.00034645, "type": "quantitative"}
          }
        }
      ]
    },
    {
      "width": 638,
      "height": 158,
      "layer": [
        {
          "data": {"name": "one"},
          "mark": {"type": "rect", "color": "#f5ebf8"},
          "encoding": {
            "y": {
              "datum": 80, "type": "quantitative",
              "scale": {"domain": [-39.7, 110.8], "nice": false, "zero": false},
              "axis": {
                "orient": "right", "values": [0, 40, 80],
                "labelExpr": "format(datum.value, '.8f')",
                "labelPadding": 9, "ticks": false, "domain": false,
                "gridColor": "#f0f3fa", "labelFontSize": 11.5, "labelColor": "#131722",
                "labelFont": "Roboto", "labelOverlap": false
              }
            },
            "y2": {"datum": 20}
          }
        },
        {
          "data": {"name": "stoch"},
          "mark": {"type": "line", "color": "#d3d6dd", "strokeWidth": 1.5},
          "encoding": {
            "x": {
              "field": "t", "type": "temporal", "title": null,
              "scale": {"type": "utc", "padding": 0, "nice": false, "domain": [
                {"year": 2025, "month": 10, "date": 16, "hours": 15, "minutes": 28, "utc": true},
                {"year": 2025, "month": 11, "date": 10, "hours": 16, "minutes": 38, "utc": true}
              ]},
              "axis": {
                "values": [
                  {"year": 2025, "month": 10, "date": 19, "utc": true},
                  {"year": 2025, "month": 10, "date": 22, "utc": true},
                  {"year": 2025, "month": 10, "date": 25, "utc": true},
                  {"year": 2025, "month": 10, "date": 28, "utc": true},
                  {"year": 2025, "month": 11, "date": 1, "utc": true},
                  {"year": 2025, "month": 11, "date": 4, "utc": true},
                  {"year": 2025, "month": 11, "date": 7, "utc": true},
                  {"year": 2025, "month": 11, "date": 10, "utc": true}
                ],
                "labelExpr": "utcdate(datum.value) == 1 ? utcFormat(datum.value, '%b') : utcFormat(datum.value, '%-d')",
                "labelPadding": 8, "ticks": false, "domain": true, "domainColor": "#e0e3eb",
                "grid": true, "gridColor": "#f0f3fa", "labelFontSize": 11.5, "labelColor": "#131722",
                "labelFont": "Roboto", "labelFlush": false, "labelOverlap": false
              }
            },
            "y": {"field": "d", "type": "quantitative", "title": null}
          }
        },
        {
          "data": {"name": "one"},
          "mark": {"type": "rule", "color": "#e0e3eb", "strokeWidth": 1},
          "encoding": {
            "x": {"datum": {"year": 2025, "month": 11, "date": 14, "hours": 7, "minutes": 19, "utc": true}, "type": "temporal"},
            "y": {"datum": 110.8, "type": "quantitative"},
            "y2": {"datum": -66.4}
          }
        },
        {
          "data": {"name": "one"},
          "mark": {"type": "rule", "color": "#e0e3eb", "strokeWidth": 1},
          "encoding": {
            "x": {"datum": {"year": 2025, "month": 10, "date": 16, "hours": 15, "minutes": 28, "utc": true}, "type": "temporal"},
            "y": {"datum": -39.7, "type": "quantitative"},
            "y2": {"datum": -66.4}
          }
        },
        {
          "data": {"name": "one"},
          "mark": {"type": "rule", "color": "#e0e3eb", "strokeWidth": 1},
          "encoding": {
            "x": {"datum": {"year": 2025, "month": 11, "date": 10, "hours": 16, "minutes": 38, "utc": true}, "type": "temporal"},
            "y": {"datum": -39.7, "type": "quantitative"},
            "y2": {"datum": -66.4}
          }
        },
        {
          "data": {"name": "one"},
          "mark": {"type": "rule", "color": "#e0e3eb", "strokeWidth": 1},
          "encoding": {
            "x": {"datum": {"year": 2025, "month": 10, "date": 16, "hours": 15, "minutes": 28, "utc": true}, "type": "temporal"},
            "x2": {"datum": {"year": 2025, "month": 11, "date": 14, "hours": 7, "minutes": 19, "utc": true}},
            "y": {"datum": -66.4, "type": "quantitative"}
          }
        },
        {
          "data": {"name": "one"},
          "mark": {"type": "rule", "color": "#e0e3eb", "strokeWidth": 1},
          "encoding": {
            "x": {"datum": {"year": 2025, "month": 11, "date": 10, "hours": 16, "minutes": 38, "utc": true}, "type": "temporal"},
            "x2": {"datum": {"year": 2025, "month": 11, "date": 14, "hours": 7, "minutes": 19, "utc": true}},
            "y": {"datum": -39.7, "type": "quantitative"}
          }
        },
        {
          "data": {"name": "one"},
          "mark": {"type": "rule", "color": "#e0e3eb", "strokeWidth": 1},
          "encoding": {
            "x": {"datum": {"year": 2025, "month": 11, "date": 10, "hours": 16, "minutes": 38, "utc": true}, "type": "temporal"},
            "x2": {"datum": {"year": 2025, "month": 11, "date": 14, "hours": 7, "minutes": 19, "utc": true}},
            "y": {"datum": 110.8, "type": "quantitative"}
          }
        },
        {
          "data": {"name": "one"},
          "mark": {"type": "rule", "color": "#f2c21b", "strokeWidth": 1, "strokeDash": [1.5, 2.5]},
          "encoding": {"y": {"datum": 80, "type": "quantitative"}}
        },
        {
          "data": {"name": "one"},
          "mark": {"type": "rule", "color": "#f2c21b", "strokeWidth": 1, "strokeDash": [1.5, 2.5]},
          "encoding": {"y": {"datum": 20, "type": "quantitative"}}
        },
        {
          "data": {"name": "one"},
          "mark": {"type": "rule", "color": "#8e24aa", "strokeWidth": 1, "strokeDash": [1.5, 2.5]},
          "encoding": {"y": {"datum": 70, "type": "quantitative"}}
        },
        {
          "data": {"name": "one"},
          "mark": {"type": "rule", "color": "#8e24aa", "strokeWidth": 1, "strokeDash": [1.5, 2.5]},
          "encoding": {"y": {"datum": 30, "type": "quantitative"}}
        },
        {
          "data": {"name": "one"},
          "mark": {"type": "rule", "color": "#787b86", "strokeWidth": 1, "strokeDash": [1.5, 2.5]},
          "encoding": {"y": {"datum": 50, "type": "quantitative"}}
        },
        {
          "data": {"name": "stoch"},
          "mark": {"type": "line", "color": "#3d8fe0", "strokeWidth": 2},
          "encoding": {
            "x": {"field": "t", "type": "temporal", "title": null},
            "y": {"field": "k", "type": "quantitative", "title": null}
          }
        },
        {
          "data": {"name": "rsi"},
          "mark": {"type": "line", "color": "#c05ae0", "strokeWidth": 3},
          "encoding": {
            "x": {"field": "t", "type": "temporal", "title": null},
            "y": {"field": "v", "type": "quantitative", "title": null}
          }
        },
        {
          "data": {"name": "div"},
          "mark": {"type": "line", "color": "#4caf50", "strokeWidth": 2},
          "encoding": {
            "x": {"field": "t", "type": "temporal", "title": null},
            "y": {"field": "v", "type": "quantitative", "title": null},
            "detail": {"field": "g"}
          }
        },
        {
          "data": {"name": "bull"},
          "mark": {"type": "point", "filled": true, "color": "#4caf50", "opacity": 1, "size": 1089, "yOffset": 11,
                   "shape": "M-0.82,-0.515H0.82Q1,-0.515 1,-0.335V0.335Q1,0.515 0.82,0.515H-0.82Q-1,0.515 -1,0.335V-0.335Q-1,-0.515 -0.82,-0.515Z"},
          "encoding": {
            "x": {"field": "t", "type": "temporal", "title": null},
            "y": {"field": "v", "type": "quantitative", "title": null}
          }
        },
        {
          "data": {"name": "bull"},
          "mark": {"type": "text", "color": "#ffffff", "fontSize": 11.5, "font": "DejaVu Sans", "yOffset": 11, "align": "center", "baseline": "middle", "text": "Bull"},
          "encoding": {
            "x": {"field": "t", "type": "temporal", "title": null},
            "y": {"field": "v", "type": "quantitative", "title": null}
          }
        },
        {
          "data": {"name": "one"},
          "mark": {"type": "point", "filled": true, "color": "#131722", "opacity": 1, "size": 900,
                   "shape": "M-1,-0.5H0.11V0.5H-0.4V-0.15H-1Z M0.16,-0.32A0.15,0.15 0 1,0 0.46,-0.32A0.15,0.15 0 1,0 0.16,-0.32Z M0.19,0.5L0.65,-0.5H1L0.55,0.5Z"},
          "encoding": {
            "x": {"datum": {"year": 2025, "month": 10, "date": 17, "hours": 7, "minutes": 12, "utc": true}, "type": "temporal"},
            "y": {"datum": -93.5, "type": "quantitative"}
          }
        },
        {
          "data": {"name": "one"},
          "mark": {"type": "text", "align": "left", "baseline": "middle", "fontSize": 20, "fontWeight": "bold", "font": "Inter", "color": "#131722", "text": "TradingView"},
          "encoding": {
            "x": {"datum": {"year": 2025, "month": 10, "date": 18, "hours": 5, "minutes": 10, "utc": true}, "type": "temporal"},
            "y": {"datum": -94.5, "type": "quantitative"}
          }
        }
      ]
    }
  ]
}
